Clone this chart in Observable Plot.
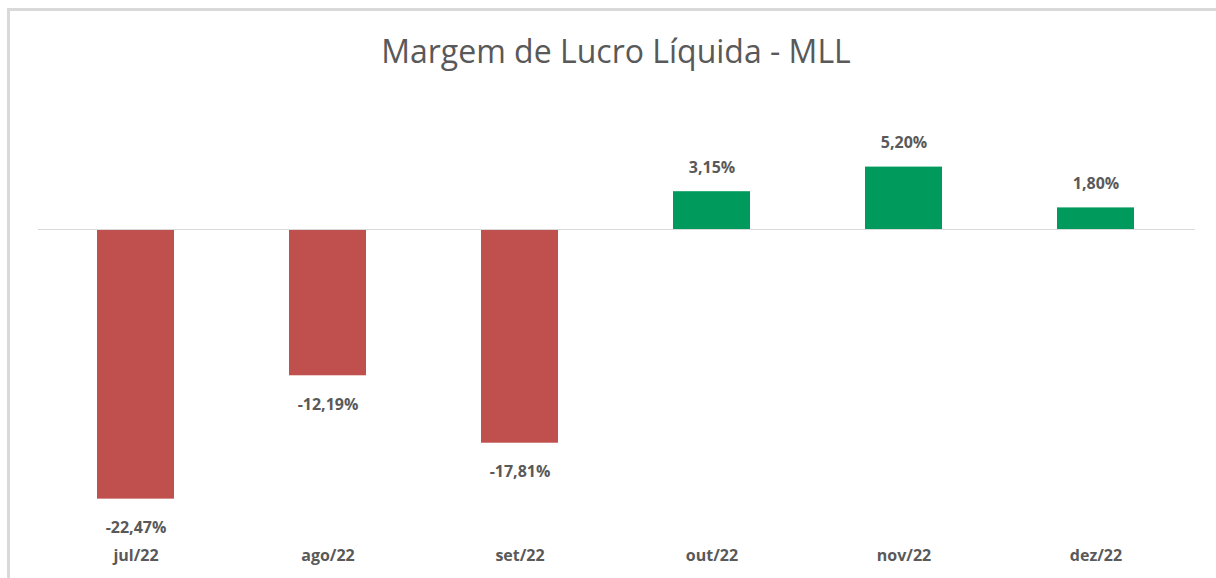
<!DOCTYPE html>
<html>
<head>
<meta charset="utf-8">
<script src="https://cdn.jsdelivr.net/npm/d3@7"></script>
<script src="https://cdn.jsdelivr.net/npm/@observablehq/plot@0.6"></script>
<style>
  body { margin: 0; background: #fff; }
  #wrap { position: relative; width: 1216px; height: 578px; overflow: hidden; background: #fff; }
  #frame { position: absolute; left: 7px; top: 8px; width: 1400px; height: 800px;
           border-left: 3px solid #d9d9d9; border-top: 3px solid #d9d9d9; }
  #title { position: absolute; left: 0; top: 35px; width: 1232px; text-align: center;
           font-family: "Open Sans", Lato, sans-serif; font-size: 32px; line-height: 32px; color: #595959; }
  #chart { position: absolute; left: 0; top: 100px; }
</style>
</head>
<body>
<div id="wrap">
  <div id="frame"></div>
  <div id="title">Margem de Lucro Líquida - MLL</div>
  <div id="chart"></div>
</div>
<script>
const categories = ["jul/22", "ago/22", "set/22", "out/22", "nov/22", "dez/22"];
const values = [-22.47, -12.19, -17.81, 3.15, 5.20, 1.80];

const data = categories.map((c, i) => ({ month: c, value: values[i] }));
const fmt = v => v.toFixed(2).replace(".", ",") + "%";

const chart = Plot.plot({
  width: 1216,
  height: 478,
  marginLeft: 38,
  marginRight: 21,
  marginTop: 0,
  marginBottom: 30,
  style: { fontFamily: "'Open Sans', Lato, sans-serif", background: "transparent" },
  x: { domain: categories, range: [37, 1193], paddingInner: 0.6, paddingOuter: 0.3, label: null },
  y: { domain: [-25, 8], range: [429, 33], axis: null },
  marks: [
    Plot.barY(data, { x: "month", y: "value", fill: d => d.value < 0 ? "#C0504D" : "#009A5C" }),
    Plot.ruleY([0], { stroke: "#d9d9d9", strokeWidth: 1 }),
    Plot.text(data.filter(d => d.value >= 0), { x: "month", y: "value", text: d => fmt(d.value), dy: -24,
      fill: "#595959", fontWeight: "bold", fontSize: 16 }),
    Plot.text(data.filter(d => d.value < 0), { x: "month", y: "value", text: d => fmt(d.value), dy: 29,
      fill: "#595959", fontWeight: "bold", fontSize: 16 }),
    Plot.axisX({ tickSize: 0, tickPadding: 1, fontSize: 16, fontWeight: "bold", fill: "#595959", label: null })
  ]
});
document.getElementById("chart").appendChild(chart);
</script>
</body>
</html>
